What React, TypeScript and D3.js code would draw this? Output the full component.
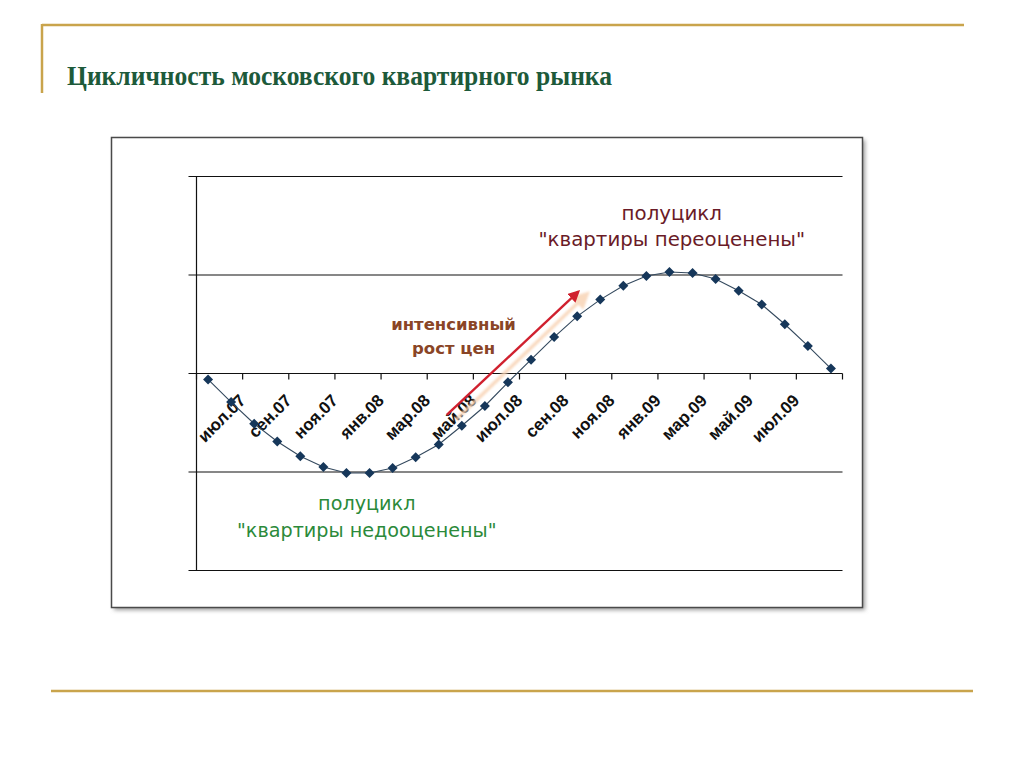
import React from "react";
import * as d3 from "d3";

const months = [
  "июн.07","июл.07","авг.07","сен.07","окт.07","ноя.07","дек.07",
  "янв.08","фев.08","мар.08","апр.08","май.08","июн.08","июл.08","авг.08","сен.08","окт.08","ноя.08","дек.08",
  "янв.09","фев.09","мар.09","апр.09","май.09","июн.09","июл.09","авг.09","сен.09",
];
const values = [
  -0.06, -0.29, -0.51, -0.69, -0.84, -0.95, -1.01, -1.01, -0.96, -0.85, -0.72, -0.53, -0.33, -0.09,
  0.14, 0.37, 0.58, 0.75, 0.89, 0.99, 1.03, 1.02, 0.96, 0.84, 0.70, 0.50, 0.28, 0.05,
];
const tickLabels = [
  "июл.07","сен.07","ноя.07","янв.08","мар.08","май.08","июл.08",
  "сен.08","ноя.08","янв.09","мар.09","май.09","июл.09",
];
const yTicks = [-2, -1, 0, 1, 2];

const title = "Цикличность московского квартирного рынка";
const overText = ["полуцикл", "\"квартиры переоценены\""];
const underText = ["полуцикл", "\"квартиры недооценены\""];
const growthText = ["интенсивный", "рост цен"];
const arrowFrom: [number, number] = [10.85, -0.42];
const arrowTo: [number, number] = [16.55, 0.83];

export default function App() {
  const left = 196.5, right = 842.5, top = 176.5, bottom = 570.5;
  const x = d3.scaleBand<string>().domain(months).range([left, right]).padding(0);
  const bw = x.bandwidth();
  const xa = d3.scaleLinear().domain([0, months.length]).range([left, right]);
  const y = d3.scaleLinear().domain([-2, 2]).range([bottom, top]);
  const y0 = y(0);

  const pts = months.map((m, i) => [x(m)! + bw / 2, y(values[i])] as [number, number]);
  const line = d3.line().curve(d3.curveLinear)(pts) || "";
  const diamond = d3.symbol().type(d3.symbolSquare).size(50)() || "";

  const boundaries = d3.range(0, months.length + 1, 2).map((i) => xa(i));

  const ax1 = xa(arrowFrom[0]), ay1 = y(arrowFrom[1]);
  const ax2 = xa(arrowTo[0]), ay2 = y(arrowTo[1]);

  return (
    <svg
      width={1024}
      height={768}
      style={{ position: "absolute", left: 0, top: 0, background: "#fff" }}
    >
      <defs>
        <filter id="blur" x="-5%" y="-5%" width="110%" height="110%">
          <feGaussianBlur stdDeviation="2" />
        </filter>
        <filter id="soft" x="-20%" y="-20%" width="140%" height="140%">
          <feGaussianBlur stdDeviation="0.9" />
        </filter>
        <marker id="redHead" viewBox="0 0 10 10" refX="8" refY="5" markerWidth="5" markerHeight="5" orient="auto">
          <path d="M0,0 L10,5 L0,10 z" fill="#d0202e" />
        </marker>
        <marker id="peachHead" viewBox="0 0 10 10" refX="8" refY="5" markerWidth="5" markerHeight="5" orient="auto">
          <path d="M0,0 L10,5 L0,10 z" fill="#f8d4b6" />
        </marker>
      </defs>

      {/* slide decoration */}
      <line x1={42} y1={25} x2={964} y2={25} stroke="#c9a44c" strokeWidth={2.5} />
      <line x1={42} y1={24} x2={42} y2={93} stroke="#c9a44c" strokeWidth={2.5} />
      <line x1={51} y1={691} x2={973} y2={691} stroke="#c9a44c" strokeWidth={2.5} />
      <text
        x={67}
        y={85}
        fontFamily="'Liberation Serif', 'Times New Roman', serif"
        fontWeight="bold"
        fontSize={28}
        fill="#1d5a3a"
        textLength={545}
        lengthAdjust="spacingAndGlyphs"
      >
        {title}
      </text>

      {/* chart frame */}
      <rect x={114} y={140} width={751} height={470} fill="#9a9a9a" filter="url(#blur)" />
      <rect x={111.5} y={137.5} width={751} height={470} fill="#fff" stroke="#4a4a4a" strokeWidth={1.5} />

      {/* gridlines + left ticks */}
      {yTicks.map((t) => (
        <line key={t} x1={left - 8} x2={right} y1={y(t)} y2={y(t)} stroke="#111" strokeWidth={1.2} />
      ))}
      <line x1={left} x2={left} y1={top} y2={bottom} stroke="#111" strokeWidth={1.2} />
      {boundaries.map((bx, i) => (
        <line key={i} x1={bx} x2={bx} y1={y0} y2={y0 + 6} stroke="#111" strokeWidth={1.2} />
      ))}

      {/* category labels */}
      {tickLabels.map((lab) => {
        const lx = x(lab)! + bw + 4;
        const ly = y0 + 28;
        return (
          <text
            key={lab}
            x={lx}
            y={ly}
            transform={`rotate(-45 ${lx} ${ly})`}
            textAnchor="end"
            fontFamily="'Liberation Sans', Arial, sans-serif"
            fontWeight="bold"
            fontSize={17}
            fill="#111"
          >
            {lab}
          </text>
        );
      })}

      {/* arrow with soft shadow */}
      <line
        x1={ax1 + 9}
        y1={ay1 + 5}
        x2={ax2 + 9}
        y2={ay2 + 2}
        stroke="#f8d4b6"
        strokeWidth={3.5}
        opacity={0.85}
        filter="url(#soft)"
        markerEnd="url(#peachHead)"
      />
      <line x1={ax1} y1={ay1} x2={ax2} y2={ay2} stroke="#d0202e" strokeWidth={2.4} markerEnd="url(#redHead)" />

      {/* series */}
      <path d={line} fill="none" stroke="#34495e" strokeWidth={1.1} />
      {pts.map(([px, py], i) => (
        <path key={i} d={diamond} transform={`translate(${px},${py}) rotate(45)`} fill="#16375a" />
      ))}

      {/* annotations */}
      <g fontFamily="'DejaVu Sans', Verdana, sans-serif" textAnchor="middle">
        {overText.map((t, i) => (
          <text key={"o" + i} x={xa(20.6)} y={y(1.56 - i * 0.265)} fontSize={19.8} fill="#6a1b27">
            {t}
          </text>
        ))}
        {underText.map((t, i) => (
          <text key={"u" + i} x={xa(7.38)} y={y(-1.385 - i * 0.275)} fontSize={19.2} fill="#2b8a3a">
            {t}
          </text>
        ))}
        {growthText.map((t, i) => (
          <text key={"g" + i} x={xa(11.14)} y={y(0.44 - i * 0.24)} fontSize={16.5} fontWeight="bold" fill="#8a4526">
            {t}
          </text>
        ))}
      </g>
    </svg>
  );
}
